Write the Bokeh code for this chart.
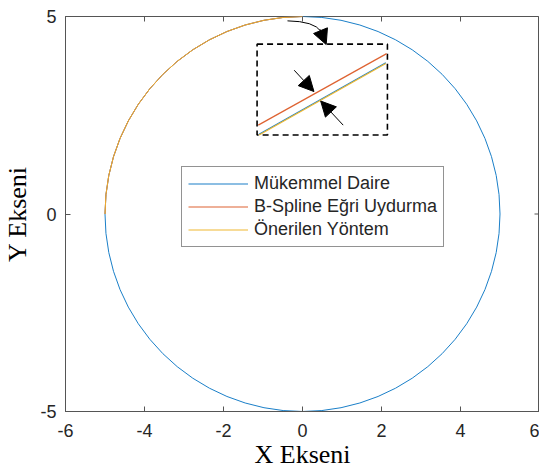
from bokeh.plotting import figure
from bokeh.models import (Range1d, FixedTicker, Legend, LegendItem, Arrow, NormalHead)
from bokeh.embed import file_html
from bokeh.resources import INLINE
import math

# ---- data ----
x_ticks = [-6, -4, -2, 0, 2, 4, 6]
x_tick_labels = ["-6", "-4", "-2", "0", "2", "4", "6"]
y_ticks = [-5, 0, 5]
y_tick_labels = ["-5", "0", "5"]
circle_radius = 5.0
full_arc = [0.0, 2 * math.pi]
quarter_arc = [math.pi / 2, math.pi]          # fitted part (top-left quadrant)
series_names = ["Mükemmel Daire", "B-Spline Eğri Uydurma", "Önerilen Yöntem"]
series_colors = ["#1A7FC8", "#DE6332", "#EFB830"]

# zoom inset (drawn in data space)
inset_box = dict(left=-1.15, right=2.15, bottom=2.0, top=4.3)
inset_spline_x = [-1.12, 2.13]
inset_spline_y = [2.25, 4.06]
inset_circle_x = [-1.10, 2.11]
inset_circle_y = [2.02, 3.83]
inset_prop_x = [-1.10, 2.11]
inset_prop_y = [2.00, 3.81]

# arrows: (x_start, y_start, x_end, y_end)
curve_arrow = dict(x0=-0.38, y0=4.89, cx=0.30, cy=4.88, x1=0.47, y1=4.62)
curve_head = (0.44, 4.68, 0.60, 4.29)
arrow_a = (-0.21, 3.64, 0.29, 3.10)
arrow_b = (1.03, 2.25, 0.46, 2.86)

AX = "#262626"
EDGE = "#555555"
p = figure(width=539, height=473, output_backend="svg", toolbar_location=None,
           x_range=Range1d(x_ticks[0], x_ticks[-1]), y_range=Range1d(y_ticks[0], y_ticks[-1]),
           min_border_left=63, min_border_right=0, min_border_top=16,
           min_border_bottom=62, x_axis_label="X Ekseni", y_axis_label="Y Ekseni")
p.grid.visible = False
p.outline_line_color = EDGE
p.outline_line_width = 1
p.background_fill_color = "white"
p.border_fill_color = "white"

for ax, ticks, labels in ((p.xaxis[0], x_ticks, x_tick_labels),
                          (p.yaxis[0], y_ticks, y_tick_labels)):
    ax.ticker = FixedTicker(ticks=ticks)
    ax.major_label_overrides = {t: s for t, s in zip(ticks, labels)}
    ax.major_tick_in = 5
    ax.major_tick_out = 0
    ax.minor_tick_line_color = None
    ax.axis_line_color = EDGE
    ax.major_tick_line_color = EDGE
    ax.major_label_text_font = "Liberation Sans"
    ax.major_label_text_font_size = "18px"
    ax.major_label_text_color = AX
    ax.axis_label_text_font = "Liberation Serif"
    ax.axis_label_text_font_size = "26px"
    ax.axis_label_text_font_style = "normal"
    ax.axis_label_text_color = "black"
p.xaxis[0].major_label_standoff = 12
p.xaxis[0].axis_label_standoff = 0
p.yaxis[0].major_label_standoff = 9
p.yaxis[0].axis_label_standoff = 5

# mirrored inward ticks on the top and right edges (clipped to the frame)
p.scatter(x=x_ticks, y=[y_ticks[-1]] * len(x_ticks), marker="dash", size=10,
          angle=math.pi / 2, line_color=EDGE, line_width=1)
p.scatter(x=[x_ticks[-1]] * len(y_ticks), y=y_ticks, marker="dash", size=10,
          line_color=EDGE, line_width=1)

p.arc(x=[0], y=[0], radius=circle_radius, start_angle=full_arc[0],
      end_angle=full_arc[1], line_color=series_colors[0], line_width=1)
p.arc(x=[0], y=[0], radius=circle_radius, start_angle=quarter_arc[0],
      end_angle=quarter_arc[1], line_color=series_colors[1], line_width=1)
p.arc(x=[0], y=[0], radius=circle_radius, start_angle=quarter_arc[0],
      end_angle=quarter_arc[1], line_color=series_colors[2], line_width=1, line_alpha=0.85)

# inset
p.quad(left=[inset_box["left"]], right=[inset_box["right"]], bottom=[inset_box["bottom"]],
       top=[inset_box["top"]], fill_color=None, line_color="black", line_width=1.6,
       line_dash="6 4")
r_spline = p.line(inset_spline_x, inset_spline_y, line_color=series_colors[1], line_width=1.2)
r_circle = p.line(inset_circle_x, inset_circle_y, line_color=series_colors[0], line_width=1.2)
r_prop = p.line(inset_prop_x, inset_prop_y, line_color=series_colors[2], line_width=1.2)

# curved arrow
p.quadratic(x0=[curve_arrow["x0"]], y0=[curve_arrow["y0"]], x1=[curve_arrow["x1"]],
            y1=[curve_arrow["y1"]], cx=[curve_arrow["cx"]], cy=[curve_arrow["cy"]],
            line_color="black", line_width=1)
for (xs, ys, xe, ye) in (curve_head, arrow_a, arrow_b):
    p.add_layout(Arrow(end=NormalHead(size=15, fill_color="black", line_color="black"),
                       x_start=xs, y_start=ys, x_end=xe, y_end=ye,
                       line_color="black", line_width=1))

legend = Legend(items=[LegendItem(label=n, renderers=[r])
                       for n, r in zip(series_names, [r_circle, r_spline, r_prop])],
                location=(116, 164))
legend.label_text_font = "Liberation Sans"
legend.label_text_font_size = "18px"
legend.label_text_color = AX
legend.border_line_color = "#262626"
legend.border_line_width = 1
legend.background_fill_color = "white"
legend.background_fill_alpha = 1
legend.padding = 6
legend.spacing = 2
legend.margin = 0
legend.glyph_width = 60
legend.glyph_height = 21
legend.label_height = 21
legend.label_standoff = 6
p.add_layout(legend)

open("out.html", "w").write(file_html(p, INLINE))
